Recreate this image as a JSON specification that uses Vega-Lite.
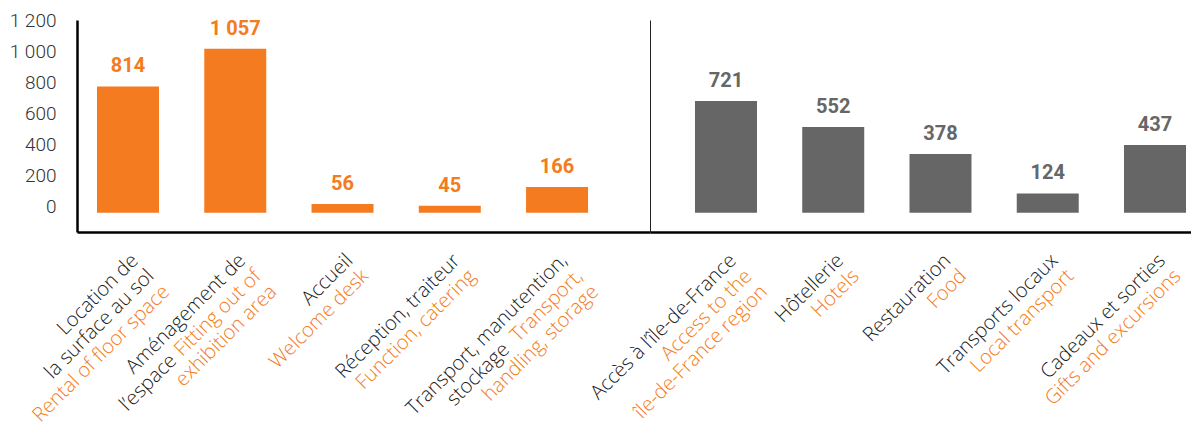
{
  "$schema": "https://vega.github.io/schema/vega-lite/v6.json",
  "autosize": {"type": "pad"},
  "padding": {"left": -3, "top": 11, "right": 0, "bottom": 0},
  "config": {
    "view": {"stroke": null},
    "locale": {"number": {"decimal": ",", "thousands": "\u00a0", "grouping": [3], "currency": ["", " €"]}}
  },
  "data": {"values": [
    {"poste": "Location de la surface au sol", "groupe": "salon", "montant": 814},
    {"poste": "Aménagement de l’espace", "groupe": "salon", "montant": 1057},
    {"poste": "Accueil", "groupe": "salon", "montant": 56},
    {"poste": "Réception, traiteur", "groupe": "salon", "montant": 45},
    {"poste": "Transport, manutention, stockage", "groupe": "salon", "montant": 166},
    {"poste": "Accès à l’île-de-France", "groupe": "séjour", "montant": 721},
    {"poste": "Hôtellerie", "groupe": "séjour", "montant": 552},
    {"poste": "Restauration", "groupe": "séjour", "montant": 378},
    {"poste": "Transports locaux", "groupe": "séjour", "montant": 124},
    {"poste": "Cadeaux et sorties", "groupe": "séjour", "montant": 437}
  ]},
  "spacing": 0,
  "bounds": "flush",
  "hconcat": [
    {
      "width": 573,
      "height": 212,
      "transform": [{"filter": "datum.groupe === 'salon'"}],
      "layer": [
        {
          "mark": {"type": "bar", "color": "#F47B20"},
          "encoding": {
            "x": {"field": "poste", "type": "nominal", "sort": null,
              "scale": {"paddingInner": 0.422, "paddingOuter": 0.382, "align": 0.244},
              "axis": {"orient": "bottom", "title": null, "labelAngle": -45, "labelAlign": "right", "labelBaseline": "top",
                "labelPadding": 18, "labelFont": "Open Sans", "labelFontWeight": 300, "labelFontSize": 20, "labelLineHeight": 22,
                "labelColor": "#1a1a1a", "labelLimit": 0, "labelOverlap": false, "labelBound": false, "labelFlush": false,
                "ticks": false, "domain": true, "domainColor": "#000000", "domainWidth": 2.5,
                "labelExpr": "{'Location de la surface au sol': ['Location de', 'la surface au sol', '\u2800'], 'Aménagement de l’espace': ['Aménagement de', 'l’espace\u00a0\u00a0\u00a0\u00a0\u00a0\u00a0\u00a0\u00a0\u00a0\u00a0\u00a0\u00a0\u00a0\u00a0\u00a0\u00a0\u00a0\u00a0\u00a0\u00a0\u00a0\u00a0\u00a0\u200b', '\u2800'], 'Accueil': ['Accueil', '\u2800', '\u2800'], 'Réception, traiteur': ['Réception, traiteur', '\u2800', '\u2800'], 'Transport, manutention, stockage': ['Transport, manutention,', 'stockage\u00a0\u00a0\u00a0\u00a0\u00a0\u00a0\u00a0\u00a0\u00a0\u00a0\u00a0\u00a0\u00a0\u00a0\u00a0\u00a0\u00a0\u00a0\u00a0\u00a0\u200b', '\u2800']}[datum.value]"}},
            "y": {"field": "montant", "type": "quantitative",
              "scale": {"domain": [-125, 1243], "nice": false, "zero": false},
              "axis": {"title": null, "values": [0, 200, 400, 600, 800, 1000, 1200], "format": ",.0f",
                "labelFont": "Roboto", "labelFontWeight": 300, "labelFontSize": 19, "labelColor": "#333333",
                "labelPadding": 21, "labelOffset": -6, "labelOverlap": false, "ticks": false, "grid": false,
                "domain": true, "domainColor": "#000000", "domainWidth": 2.5}},
            "y2": {"datum": 0}
          }
        },
        {
          "mark": {"type": "text", "color": "#F47B20", "font": "Roboto", "fontSize": 20, "fontWeight": "bold", "baseline": "alphabetic", "dy": -14},
          "encoding": {
            "x": {"field": "poste", "type": "nominal", "sort": null,
              "axis": {"orient": "bottom", "title": null, "labelAngle": -45, "labelAlign": "right", "labelBaseline": "top",
                "labelPadding": 18, "labelFont": "Open Sans", "labelFontWeight": 300, "labelFontSize": 20, "labelLineHeight": 22,
                "labelColor": "#F47B20", "labelLimit": 0, "labelOverlap": false, "labelBound": false, "labelFlush": false,
                "ticks": false, "domain": false,
                "labelExpr": "{'Location de la surface au sol': ['\u2800', '\u2800', 'Rental of floor space'], 'Aménagement de l’espace': ['\u2800', 'Fitting out of', 'exhibition area'], 'Accueil': ['\u2800', 'Welcome desk', '\u2800'], 'Réception, traiteur': ['\u2800', 'Function, catering', '\u2800'], 'Transport, manutention, stockage': ['\u2800', 'Transport,', 'handling, storage']}[datum.value]"}},
            "y": {"field": "montant", "type": "quantitative",
              "axis": {"title": null, "values": [0, 200, 400, 600, 800, 1000, 1200], "format": ",.0f",
                "labelFont": "Roboto", "labelFontWeight": 300, "labelFontSize": 19, "labelColor": "#333333",
                "labelPadding": 21, "labelOffset": -6, "labelOverlap": false, "ticks": false, "grid": false,
                "domain": true, "domainColor": "#000000", "domainWidth": 2.5}},
            "text": {"field": "montant", "type": "quantitative", "format": ","}
          }
        }
      ],
      "resolve": {"axis": {"x": "independent"}}
    },
    {
      "width": 541,
      "height": 212,
      "transform": [{"filter": "datum.groupe === 'séjour'"}],
      "layer": [
        {
          "mark": {"type": "bar", "color": "#666666"},
          "encoding": {
            "x": {"field": "poste", "type": "nominal", "sort": null,
              "scale": {"paddingInner": 0.422, "paddingOuter": 0.233, "align": 0.9},
              "axis": {"orient": "bottom", "title": null, "labelAngle": -45, "labelAlign": "right", "labelBaseline": "top",
                "labelPadding": 18, "labelFont": "Open Sans", "labelFontWeight": 300, "labelFontSize": 20, "labelLineHeight": 22,
                "labelColor": "#1a1a1a", "labelLimit": 0, "labelOverlap": false, "labelBound": false, "labelFlush": false,
                "ticks": false, "domain": true, "domainColor": "#000000", "domainWidth": 2.5,
                "labelExpr": "[datum.value, '\u2800', '\u2800']"}},
            "y": {"field": "montant", "type": "quantitative",
              "scale": {"domain": [-125, 1243], "nice": false, "zero": false},
              "axis": {"title": null, "labels": false, "ticks": false, "grid": false,
                "domain": true, "domainColor": "#222222", "domainWidth": 1}},
            "y2": {"datum": 0}
          }
        },
        {
          "mark": {"type": "text", "color": "#666666", "font": "Roboto", "fontSize": 20, "fontWeight": "bold", "baseline": "alphabetic", "dy": -14},
          "encoding": {
            "x": {"field": "poste", "type": "nominal", "sort": null,
              "axis": {"orient": "bottom", "title": null, "labelAngle": -45, "labelAlign": "right", "labelBaseline": "top",
                "labelPadding": 18, "labelFont": "Open Sans", "labelFontWeight": 300, "labelFontSize": 20, "labelLineHeight": 22,
                "labelColor": "#F47B20", "labelLimit": 0, "labelOverlap": false, "labelBound": false, "labelFlush": false,
                "ticks": false, "domain": false,
                "labelExpr": "{'Accès à l’île-de-France': ['\u2800', 'Access to the', 'île-de-France region'], 'Hôtellerie': ['\u2800', 'Hotels', '\u2800'], 'Restauration': ['\u2800', 'Food', '\u2800'], 'Transports locaux': ['\u2800', 'Local transport', '\u2800'], 'Cadeaux et sorties': ['\u2800', 'Gifts and excursions', '\u2800']}[datum.value]"}},
            "y": {"field": "montant", "type": "quantitative",
              "axis": {"title": null, "labels": false, "ticks": false, "grid": false,
                "domain": true, "domainColor": "#222222", "domainWidth": 1}},
            "text": {"field": "montant", "type": "quantitative", "format": ","}
          }
        }
      ],
      "resolve": {"axis": {"x": "independent"}}
    }
  ]
}
